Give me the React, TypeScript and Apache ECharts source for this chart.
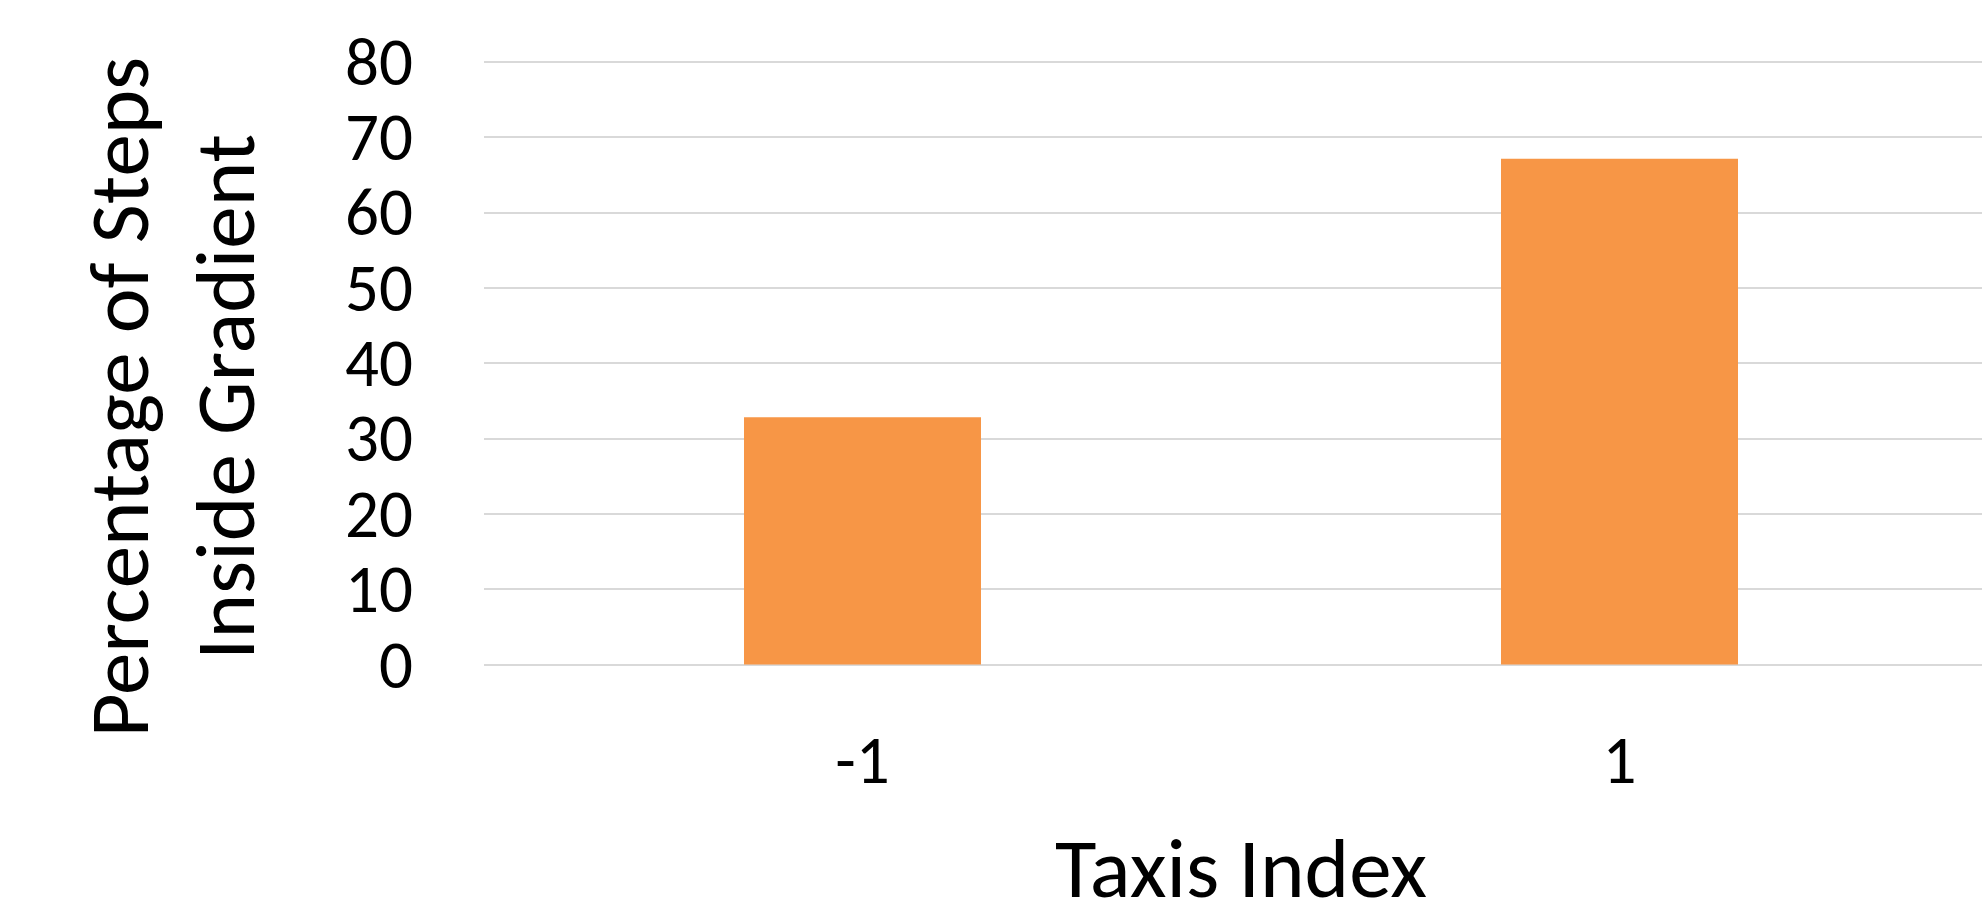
import React, { useEffect, useRef } from "react";
import * as echarts from "echarts";

const categories = ["-1", "1"];
const percentInside = [32.8, 67.1];
const yTicks = { min: 0, max: 80, interval: 10 };
const xAxisTitle = "Taxis Index";
const yAxisTitle = "Percentage of Steps\nInside Gradient";

const FONT = "Carlito, Calibri, Lato, 'Noto Sans', sans-serif";

export default function App() {
  const ref = useRef<HTMLDivElement>(null);
  useEffect(() => {
    if (!ref.current) return;
    const chart = echarts.init(ref.current, null, { renderer: "svg" });
    chart.setOption({
      animation: false,
      backgroundColor: "#ffffff",
      grid: {
        left: 484,
        top: 61.6,
        width: 1514,
        height: 603,
        containLabel: false,
        outerBoundsMode: "none",
      },
      xAxis: {
        type: "category",
        data: categories,
        axisLine: { show: false },
        axisTick: { show: false },
        axisLabel: {
          color: "#000",
          fontFamily: FONT,
          fontSize: 67,
          lineHeight: 60,
          margin: 95,
          verticalAlign: "middle",
        },
        name: xAxisTitle,
        nameLocation: "middle",
        nameGap: 203,
        nameTextStyle: {
          color: "#000",
          fontFamily: FONT,
          fontSize: 85,
          lineHeight: 56,
          verticalAlign: "middle",
        },
      },
      yAxis: {
        type: "value",
        min: yTicks.min,
        max: yTicks.max,
        interval: yTicks.interval,
        axisLine: { show: false },
        axisTick: { show: false },
        splitLine: { show: true, lineStyle: { color: "#d9d9d9", width: 2 } },
        axisLabel: {
          color: "#000",
          fontFamily: FONT,
          fontSize: 67,
          lineHeight: 60,
          margin: 71,
        },
      },
      graphic: [
        {
          type: "text",
          x: 171.5,
          y: 397,
          rotation: Math.PI / 2,
          style: {
            text: yAxisTitle,
            fill: "#000",
            fontFamily: FONT,
            fontSize: 85,
            lineHeight: 106,
            align: "center",
            verticalAlign: "middle",
          },
        },
      ],
      series: [
        {
          type: "bar",
          data: percentInside,
          barWidth: 237,
          itemStyle: { color: "#F79646" },
        },
      ],
    });
    return () => chart.dispose();
  }, []);
  return (
    <div
      ref={ref}
      style={{ position: "fixed", left: 0, top: 0, width: 1982, height: 899 }}
    />
  );
}
